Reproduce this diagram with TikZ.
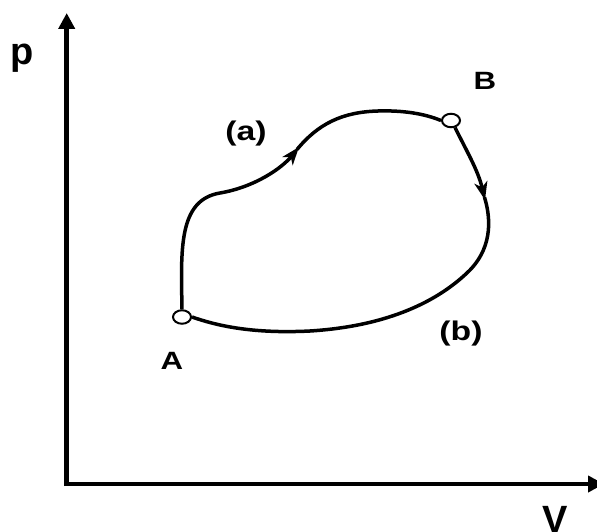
\documentclass[tikz,border=0pt]{standalone}
\usepackage{fontspec}
\usepackage{graphicx}
\setmainfont{Liberation Sans}
\usetikzlibrary{arrows.meta,shapes.geometric}
\newcommand{\wide}[1]{\scalebox{1.25}[1]{#1}}
\begin{document}
\begin{tikzpicture}[x=1pt,y=-1pt,
  axis/.style={line width=4.5pt,-{Triangle[length=16pt,width=16pt]}},
  curve/.style={line width=3.5pt},
  arr/.style={-{Stealth[length=18pt,width=13pt,inset=5pt]}},
  statept/.style={draw,line width=2pt,fill=white,ellipse,inner sep=0pt,minimum width=18pt,minimum height=13.5pt},
  ptlabel/.style={font=\fontsize{25}{30}\selectfont\bfseries,inner sep=0pt},
  pathlabel/.style={font=\fontsize{27}{32}\selectfont\bfseries,inner sep=0pt},
  axislabel/.style={font=\fontsize{38}{44}\selectfont\bfseries,inner sep=0pt}
]
\useasboundingbox (0,0) rectangle (597,532);
\coordinate (ytip) at (66.7,13);
\coordinate (xtip) at (604,484);
\draw[axis] (66.7,486) -- (ytip);
\draw[axis] (64.5,484) -- (xtip);
\node[axislabel] (p) at (22.5,58) {p};
\node[axislabel] (V) at (555,519) {V};
\node[statept] (A) at (182,317) {};
\node[statept] (B) at (451,120.5) {};
\coordinate (a1) at (299,147);
\coordinate (b1) at (485,200);
\draw[curve,arr] (A.north) .. controls (181,250) and (178,200) .. (220,193)
  .. controls (255,187) and (282,168) .. (a1);
\draw[curve] ([shift={(-2,2.5)}]a1) .. controls (318,124) and (342,112) .. (378,111)
  .. controls (410,110) and (430,116) .. (B.west);
\draw[curve,arr] (B.-60) .. controls (466,150) and (478,170) .. (b1);
\draw[curve] ([shift={(-0.6,-3)}]b1) .. controls (490,215) and (494,245) .. (470,270)
  .. controls (440,300) and (390,326) .. (310,331)
  .. controls (250,334) and (215,325) .. (A.east);
\node[ptlabel] (lA) at (172,361) {\wide{A}};
\node[ptlabel] (lB) at (485,80.5) {\wide{B}};
\node[pathlabel] (la) at (246,134) {\wide{(a)}};
\node[pathlabel] (lb) at (461,333.5) {\wide{(b)}};
\end{tikzpicture}
\end{document}
